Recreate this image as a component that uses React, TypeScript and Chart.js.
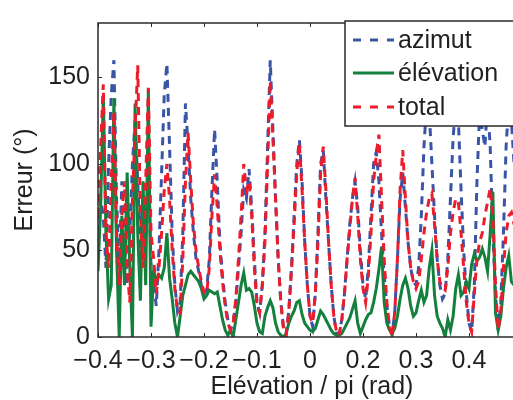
import React, { useEffect, useRef } from 'react';
import { Chart, registerables } from 'chart.js';

Chart.register(...registerables);

// Sample grid of the x axis (Elévation / pi)
const X_START = -0.4;
const X_STEP = 0.005;

const xTickValues = [-0.4, -0.3, -0.2, -0.1, 0, 0.1, 0.2, 0.3];
const xTickLabels = ['−0.4', '−0.3', '−0.2', '−0.1', '0', '0.2', '0.3', '0.4'];
const yTickValues = [0, 50, 100, 150];

const seriesLabels = ['azimut', 'élévation', 'total'];
const xTitle = 'Elévation / pi (rad)';
const yTitle = 'Erreur (°)';

const azimut = [
  60, 80, 70, 40, 100, 140, 160, 80, 40, 90,
  60, 30, 60, 100, 125, 90, 50, 80, 60, 110,
  40, 30, 18, 50, 95, 140, 158, 110, 60, 30,
  15, 20, 60, 135, 110, 80, 60, 45, 38, 30,
  25, 27, 45, 85, 120, 90, 55, 35, 20, 10,
  4, 8, 20, 40, 60, 85, 80, 97, 75, 45,
  20, 14, 30, 60, 110, 160, 120, 80, 45, 20,
  5, 2, 15, 40, 70, 100, 114, 90, 55, 30,
  12, 6, 25, 60, 100, 108, 80, 55, 30, 12,
  2, 2, 10, 25, 45, 65, 80, 90, 75, 50,
  30, 22, 40, 70, 100, 107, 90, 60, 35, 18,
  6, 1, 15, 45, 80, 95, 75, 55, 40, 32,
  30, 40, 70, 110, 135, 130, 100, 70, 45, 30,
  22, 25, 45, 80, 115, 135, 125, 85, 50, 25,
  8, 3, 30, 90, 130, 120, 110, 135, 110, 60,
  25, 4, 20, 60, 110, 135, 125, 100,
];

const elevation = [
  38, 75, 140, 60, 22, 30, 138, 50, 0, 70,
  30, 95, 40, 0, 135, 60, 21, 90, 30, 143,
  6, 38, 33, 36, 34, 40, 60, 34, 22, 8,
  0, 12, 24, 30, 36, 38, 36, 34, 32, 28,
  22, 24, 27, 26, 25, 26, 18, 10, 4, 1,
  4, 0, 10, 20, 30, 37, 27, 28, 26, 18,
  8, 3, 2, 12, 17, 21, 17, 8, 3, 1,
  0, 2, 8, 12, 15, 20, 21, 13, 8, 6,
  4, 3, 5, 10, 15, 13, 10, 7, 4, 2,
  1, 1, 2, 5, 8, 11, 16, 21, 8, 2,
  6, 10, 13, 14, 20, 28, 39, 52, 20, 8,
  4, 2, 5, 12, 22, 30, 34, 28, 18, 12,
  14, 21, 27, 20, 24, 40, 50, 24, 12, 8,
  5, 0, 10, 4, 12, 28, 36, 24, 26, 32,
  28, 42, 48, 44, 46, 51, 46, 38, 60, 84,
  14, 4, 12, 28, 40, 47, 32, 30,
];

const total = [
  70, 110, 146, 60, 40, 90, 130, 60, 30, 70,
  90, 40, 20, 80, 120, 157, 70, 40, 90, 144,
  60, 45, 25, 40, 60, 85, 100, 80, 50, 28,
  15, 14, 45, 90, 118, 90, 65, 50, 40, 32,
  26, 25, 40, 70, 94, 75, 50, 32, 18, 8,
  4, 8, 22, 45, 70, 100, 85, 90, 70, 40,
  18, 14, 30, 55, 100, 148, 115, 80, 45, 20,
  5, 1, 15, 38, 65, 95, 112, 85, 55, 30,
  12, 8, 25, 55, 95, 110, 85, 55, 30, 12,
  3, 1, 10, 25, 45, 62, 80, 92, 70, 45,
  28, 20, 35, 60, 90, 105, 117, 80, 45, 20,
  6, 0, 15, 45, 85, 108, 80, 55, 40, 32,
  28, 32, 45, 60, 72, 80, 83, 65, 45, 32,
  28, 27, 40, 60, 72, 80, 78, 60, 40, 20,
  8, 3, 25, 45, 55, 60, 70, 78, 86, 70,
  30, 4, 15, 40, 60, 70, 72, 65,
];

const COLORS = { azimut: '#3a55a6', elevation: '#14803d', total: '#ec1c2b' };
const FONT = "'Liberation Sans', Arial, Helvetica, sans-serif";
const TEXT = '#231f20';

const CANVAS_W = 526;
const CANVAS_H = 400;
const AREA_LEFT = 98;
const AREA_TOP = 14;
const AREA_BOTTOM = 337;
const X_MAX = X_START + (CANVAS_W - AREA_LEFT) / 530;
const Y_MAX = 181.5;
const LINE_W = 3;

const toPoints = (arr: number[]) => arr.map((y, i) => ({ x: X_START + i * X_STEP, y }));

const framePlugin = {
  id: 'frameAndLegend',
  afterDatasetsDraw(chart: any) {
    const { ctx, chartArea: a, scales } = chart;
    ctx.save();
    // axes box
    ctx.strokeStyle = '#2a2a2a';
    ctx.lineWidth = 1.5;
    ctx.strokeRect(a.left, a.top, a.right - a.left, a.bottom - a.top);
    // inner tick marks
    ctx.lineWidth = 1;
    ctx.beginPath();
    xTickValues.forEach((v) => {
      const px = Math.round(scales.x.getPixelForValue(v)) + 0.5;
      ctx.moveTo(px, a.bottom);
      ctx.lineTo(px, a.bottom - 4);
      ctx.moveTo(px, a.top);
      ctx.lineTo(px, a.top + 4);
    });
    yTickValues.forEach((v) => {
      const py = Math.round(scales.y.getPixelForValue(v)) + 0.5;
      ctx.moveTo(a.left, py);
      ctx.lineTo(a.left + 4, py);
    });
    ctx.stroke();

    // legend box
    const lx = 345;
    const ly = 21;
    const lh = 105;
    ctx.fillStyle = '#ffffff';
    ctx.fillRect(lx, ly, 300, lh);
    ctx.strokeStyle = '#2a2a2a';
    ctx.lineWidth = 1.5;
    ctx.strokeRect(lx, ly, 300, lh);
    const rows = [40, 73, 107];
    const colors = [COLORS.azimut, COLORS.elevation, COLORS.total];
    const dashed = [true, false, true];
    ctx.font = `25px ${FONT}`;
    ctx.textBaseline = 'middle';
    ctx.textAlign = 'left';
    rows.forEach((ry, i) => {
      ctx.strokeStyle = colors[i];
      ctx.lineWidth = LINE_W;
      ctx.setLineDash(dashed[i] ? [8, 9] : []);
      ctx.beginPath();
      ctx.moveTo(353, ry);
      ctx.lineTo(394, ry);
      ctx.stroke();
      ctx.setLineDash([]);
      ctx.fillStyle = TEXT;
      ctx.fillText(seriesLabels[i], 398, ry + 1);
    });

    // axis titles
    ctx.fillStyle = TEXT;
    ctx.font = `25px ${FONT}`;
    ctx.textAlign = 'center';
    ctx.textBaseline = 'alphabetic';
    ctx.fillText(xTitle, (a.left + a.right) / 2, 394);
    ctx.save();
    ctx.translate(32, (a.top + a.bottom) / 2);
    ctx.rotate(-Math.PI / 2);
    ctx.textBaseline = 'alphabetic';
    ctx.fillText(yTitle, 0, 0);
    ctx.restore();
    ctx.restore();
  },
};

export default function App() {
  const ref = useRef<HTMLCanvasElement | null>(null);

  useEffect(() => {
    if (!ref.current) return;
    const chart = new Chart(ref.current, {
      type: 'line',
      data: {
        datasets: [
          {
            label: seriesLabels[0],
            data: toPoints(azimut),
            borderColor: COLORS.azimut,
            borderWidth: LINE_W,
            borderDash: [8, 6],
            pointRadius: 0,
            fill: false,
            order: 2,
          },
          {
            label: seriesLabels[1],
            data: toPoints(elevation),
            borderColor: COLORS.elevation,
            borderWidth: LINE_W,
            pointRadius: 0,
            fill: false,
            order: 1,
          },
          {
            label: seriesLabels[2],
            data: toPoints(total),
            borderColor: COLORS.total,
            borderWidth: LINE_W,
            borderDash: [8, 6],
            pointRadius: 0,
            fill: false,
            order: 0,
          },
        ],
      },
      options: {
        responsive: false,
        animation: false,
        devicePixelRatio: 1,
        layout: { padding: { top: AREA_TOP, right: 0, left: 0, bottom: 0 } },
        plugins: { legend: { display: false }, tooltip: { enabled: false } },
        elements: { line: { tension: 0 }, point: { radius: 0 } },
        scales: {
          x: {
            type: 'linear',
            min: X_START,
            max: X_MAX,
            grid: { display: false, drawTicks: false },
            border: { display: false },
            afterBuildTicks: (s: any) => {
              s.ticks = xTickValues.map((v) => ({ value: v }));
            },
            afterFit: (s: any) => {
              s.height = CANVAS_H - AREA_BOTTOM;
            },
            ticks: {
              autoSkip: false,
              maxRotation: 0,
              minRotation: 0,
              padding: 9,
              color: TEXT,
              font: { family: FONT, size: 25 },
              callback: (_v: any, i: number) => xTickLabels[i] ?? '',
            },
          },
          y: {
            type: 'linear',
            min: 0,
            max: Y_MAX,
            grid: { display: false, drawTicks: false },
            border: { display: false },
            afterBuildTicks: (s: any) => {
              s.ticks = yTickValues.map((v) => ({ value: v }));
            },
            afterFit: (s: any) => {
              s.width = AREA_LEFT;
            },
            ticks: {
              padding: 8,
              color: TEXT,
              font: { family: FONT, size: 25 },
              callback: (v: any) => String(v),
            },
          },
        },
      },
      plugins: [framePlugin],
    });
    return () => chart.destroy();
  }, []);

  return (
    <div
      style={{
        position: 'fixed',
        left: 0,
        top: 0,
        width: 513,
        height: 400,
        overflow: 'hidden',
        background: '#fff',
      }}
    >
      <canvas ref={ref} width={CANVAS_W} height={CANVAS_H} style={{ display: 'block', width: CANVAS_W, height: CANVAS_H }} />
    </div>
  );
}
